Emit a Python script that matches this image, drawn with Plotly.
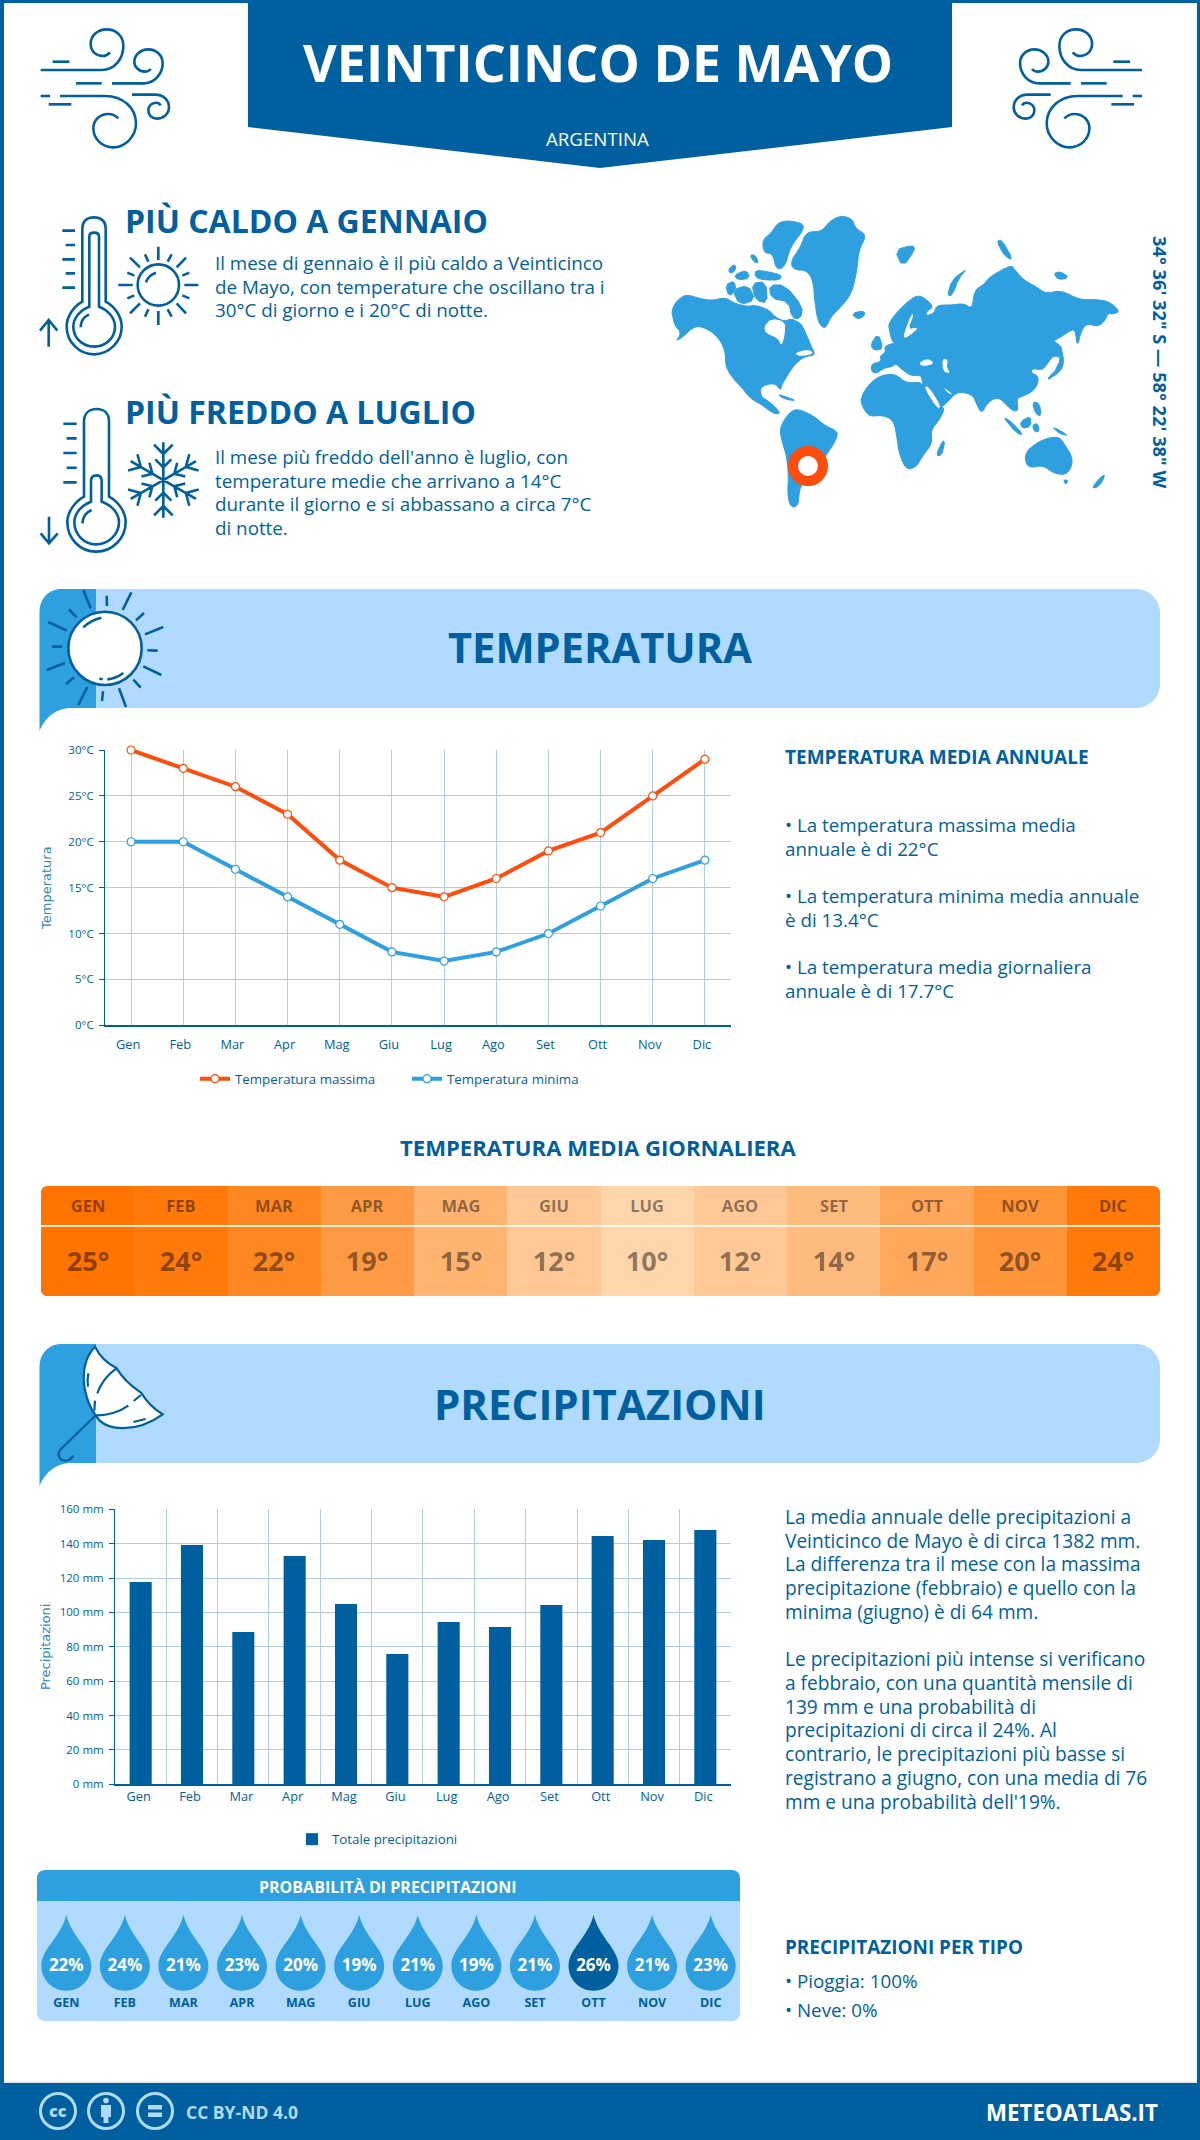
import math
import re
import plotly.graph_objects as go

# ==============================
# DATA
# ==============================
MONTHS = ["Gen", "Feb", "Mar", "Apr", "Mag", "Giu", "Lug", "Ago", "Set", "Ott", "Nov", "Dic"]
MONTHS_UP = ["GEN", "FEB", "MAR", "APR", "MAG", "GIU", "LUG", "AGO", "SET", "OTT", "NOV", "DIC"]
TEMP_MAX = [30, 28, 26, 23, 18, 15, 14, 16, 19, 21, 25, 29]
TEMP_MIN = [20, 20, 17, 14, 11, 8, 7, 8, 10, 13, 16, 18]
TEMP_AVG = [25, 24, 22, 19, 15, 12, 10, 12, 14, 17, 20, 24]
RAIN = [117.7, 139.2, 88.6, 132.8, 104.9, 75.8, 94.4, 91.5, 104.3, 144.5, 142.2, 148.0]
RAIN_PROB = [22, 24, 21, 23, 20, 19, 21, 19, 21, 26, 21, 23]

DARK = "#005F9E"
MID = "#2E9FDF"
LIGHT = "#B0DBFE"
RED = "#FF4D0D"
GRID = "#B3CDE0"
W, H = 1200, 2140

shapes = []
annotations = []


# ==============================
# HELPERS (page pixels -> paper)
# ==============================
def px(x):
    return round(x / W, 5)


def py(y):
    return round(1 - y / H, 5)


def paper_path(d, ox=0, oy=0, kx=1 / 3, ky=1 / 3, mirror=None):
    """Convert an 'M x y L x y C ...' string from crop coords to paper coords."""
    out = []
    nums = []
    for tok in re.findall(r"[MLCZ]|-?\d+\.?\d*", d):
        if tok in "MLCZ":
            out.append(tok)
        else:
            nums.append(float(tok))
            if len(nums) == 2:
                x = ox + nums[0] * kx
                if mirror is not None:
                    x = mirror - x
                out.append(f"{px(x)},{py(oy + nums[1] * ky)}")
                nums = []
    return " ".join(out)


def add_path(d, color=DARK, lw=2.6, fill=None, layer="above", **kw):
    shapes.append(dict(type="path", xref="paper", yref="paper", path=paper_path(d, **kw),
                       line=dict(color=color, width=lw) if lw else dict(width=0),
                       fillcolor=fill or "rgba(0,0,0,0)", layer=layer))


def add_segments(segs, **kw):
    d = " ".join(f"M{a} {b} L{c} {e}" for a, b, c, e in segs)
    add_path(d, **kw)


def rrect(x0, y0, x1, y1, tl=0, tr=0, br=0, bl=0):
    c = 0.45
    return (f"M{x0 + tl} {y0} L{x1 - tr} {y0} C{x1 - tr * c} {y0} {x1} {y0 + tr * c} {x1} {y0 + tr} "
            f"L{x1} {y1 - br} C{x1} {y1 - br * c} {x1 - br * c} {y1} {x1 - br} {y1} "
            f"L{x0 + bl} {y1} C{x0 + bl * c} {y1} {x0} {y1 - bl * c} {x0} {y1 - bl} "
            f"L{x0} {y0 + tl} C{x0} {y0 + tl * c} {x0 + tl * c} {y0} {x0 + tl} {y0} Z")


def add_box(x0, y0, x1, y1, fill, tl=0, tr=0, br=0, bl=0, layer="below"):
    add_path(rrect(x0, y0, x1, y1, tl, tr, br, bl), lw=0, fill=fill, kx=1, ky=1, layer=layer)


def add_circle(cx, cy, r, line, lw, fill="rgba(0,0,0,0)"):
    shapes.append(dict(type="circle", xref="paper", yref="paper", x0=px(cx - r), x1=px(cx + r),
                       y0=py(cy - r), y1=py(cy + r), line=dict(color=line, width=lw), fillcolor=fill))


def label(x, y, text, size, color=DARK, weight=400, anchor="left", family="Open Sans", angle=0):
    annotations.append(dict(xref="paper", yref="paper", x=px(x), y=py(y), text=text, showarrow=False,
                            xanchor=anchor, yanchor="middle", align=anchor if anchor != "center" else "center",
                            textangle=angle, borderpad=0, borderwidth=0,
                            font=dict(family=family, size=size, color=color, weight=weight)))


def para(x, y, lines, size, step=23.6):
    for i, line in enumerate(lines):
        label(x, y + i * step, line, size)


def smooth(d):
    """Round the corners of a polygon string (corner cutting), the coast looks less blocky."""
    nums = [float(n) for n in re.findall(r"\d+\.?\d*", d)]
    pts = list(zip(nums[0::2], nums[1::2]))
    for _ in range(2 if len(pts) > 8 else 1):
        new = []
        for i, (x0, y0) in enumerate(pts):
            x1, y1 = pts[(i + 1) % len(pts)]
            new.append((0.75 * x0 + 0.25 * x1, 0.75 * y0 + 0.25 * y1))
            new.append((0.25 * x0 + 0.75 * x1, 0.25 * y0 + 0.75 * y1))
        pts = new
    return "M" + " L".join(f"{x:.1f} {y:.1f}" for x, y in pts) + " Z"


# ==============================
# PAGE FRAME + HEADER
# ==============================
add_box(0, 0, 4, H, DARK)
add_box(W - 3, 0, W, H, DARK)
add_box(0, 0, W, 3, DARK)
add_box(0, 2083, W, H, DARK)
add_box(4, 2081.5, W - 3, 2083, "#DDE3E8")
add_path("M248 0 L952 0 L952 127 L600 168 L248 127 Z", lw=0, fill=DARK, kx=1, ky=1, layer="below")
label(598, 62, "VEINTICINCO DE MAYO", 52, "white", 700, "center")
label(598, 138, "ARGENTINA", 18.7, "white", 400, "center")

WIND = [
    "M32 150 L215 150 C255 150 280 115 280 78 C280 48 258 28 230 28 C205 28 182 45 182 72 C182 95 200 108 218 108 C228 108 235 103 240 97",
    "M68 125 L118 125",
    "M138 190 L215 190",
    "M246 190 L340 190 C375 190 398 160 398 130 C398 105 378 88 355 88 C332 88 313 105 313 125 C313 142 328 155 345 155 C352 155 358 152 362 147",
    "M32 228 L60 228",
    "M90 228 L225 228 C280 228 318 265 318 310 C318 350 285 382 250 382 C215 382 190 355 190 325 C190 300 210 282 235 282 C248 282 258 288 265 295",
    "M56 253 L124 253",
    "M306 224 L375 224 C400 224 417 240 417 262 C417 282 400 296 380 296 C365 296 355 285 355 270 C355 258 365 248 378 248 C385 248 390 252 392 256",
]
for d in WIND:
    add_path(d, ox=30, oy=20)
    add_path(d, ox=30, oy=20, mirror=1182.7)

# ==============================
# HOT / COLD BLOCKS
# ==============================
label(125, 221, "PIÙ CALDO A GENNAIO", 32, DARK, 700)
para(215, 263, ["Il mese di gennaio è il più caldo a Veinticinco",
                "de Mayo, con temperature che oscillano tra i",
                "30°C di giorno e i 20°C di notte."], 18.8)
label(125, 411, "PIÙ FREDDO A LUGLIO", 32, DARK, 700)
para(215, 457, ["Il mese più freddo dell'anno è luglio, con",
                "temperature medie che arrivano a 14°C",
                "durante il giorno e si abbassano a circa 7°C",
                "di notte."], 18.8)

hot = dict(ox=30, oy=205)
add_path("M157 290 L157 70 C157 48 172 37 192 37 C212 37 227 48 227 70 L227 290 C255 305 275 335 275 365 C275 410 237 448 192 448 C147 448 110 410 110 365 C110 335 130 305 157 290 Z", **hot)
add_path("M178 305 L178 95 C178 85 185 83 192 83 C200 83 207 85 207 95 L207 305 C235 315 255 340 255 365 C255 398 228 425 192 425 C157 425 130 398 130 365 C130 340 150 315 178 305 Z", **hot)
add_path("M152 367 C152 350 162 335 177 328", **hot)
add_segments([(97, 77, 135, 77), (107, 120, 135, 120), (97, 163, 135, 163), (107, 205, 135, 205), (97, 248, 135, 248)], **hot)
add_path("M56 425 L56 345 M30 377 L56 345 L82 377", **hot)
add_circle(30 + 385 / 3, 205 + 240 / 3, 62 / 3, DARK, 2.6)
add_path("M348 232 C352 218 362 208 378 203", **hot)
add_segments([(385, 125, 385, 165), (385, 318, 385, 360), (265, 240, 308, 240), (463, 240, 505, 240),
              (300, 158, 330, 187), (468, 158, 440, 187), (300, 325, 330, 295), (468, 325, 440, 295),
              (345, 148, 355, 170), (425, 148, 413, 170), (292, 203, 313, 212), (478, 203, 457, 212),
              (292, 280, 313, 271), (478, 280, 457, 271), (345, 335, 355, 313), (425, 335, 413, 313)], **hot)

cold = dict(ox=30, oy=395)
add_path("M162 305 L162 80 C162 55 178 42 200 42 C222 42 237 55 237 80 L237 305 C265 320 287 350 287 382 C287 430 247 470 198 470 C150 470 112 430 112 382 C112 350 135 320 162 305 Z", **cold)
add_path("M183 320 L183 258 C183 247 190 241 200 241 C210 241 215 247 215 258 L215 320 C245 330 267 355 267 382 C267 418 235 448 198 448 C162 448 133 418 133 382 C133 355 155 330 183 320 Z", **cold)
add_path("M157 385 C158 368 168 352 185 345", **cold)
add_segments([(100, 86, 140, 86), (110, 130, 140, 130), (100, 174, 140, 174), (110, 218, 140, 218), (100, 262, 140, 262)], **cold)
add_path("M57 365 L57 445 M32 415 L57 445 L83 415", **cold)
flake = []
for k in range(6):
    a = math.radians(90 + 60 * k)
    ca, sa = math.cos(a), math.sin(a)
    for x0, y0, x1, y1 in [(0, 0, 0, 113), (0, 78, -28, 106), (0, 78, 28, 106), (0, 38, -24, 62), (0, 38, 24, 62)]:
        flake.append((round(400 + x0 * sa + y0 * ca, 1), round(255 - y0 * sa + x0 * ca, 1),
                      round(400 + x1 * sa + y1 * ca, 1), round(255 - y1 * sa + x1 * ca, 1)))
add_segments(flake, **cold)

# ==============================
# WORLD MAP (crop coords of the map area)
# ==============================
LAND = [
    # north america
    "M62 365 L70 340 L100 312 L140 325 L175 332 L215 322 L240 340 L280 350 L300 345 L340 360 L355 380 L385 395 L400 385 L430 400 L440 420 L460 470 L472 495 L440 500 L415 520 L395 550 L375 585 L372 602 L362 585 L345 580 L315 590 L315 620 L340 635 L360 655 L372 672 L350 670 L320 645 L285 625 L260 590 L240 570 L215 530 L215 480 L190 435 L150 410 L125 410 L100 435 L72 456 L90 430 L70 405 L65 380 Z",
    # arctic islands
    "M215 285 L240 272 L245 300 L225 320 Z",
    "M222 240 L240 222 L246 235 L232 252 Z",
    "M240 255 L275 240 L285 265 L250 270 Z",
    "M235 300 L280 285 L300 330 L255 345 Z",
    "M300 240 L335 245 L375 255 L370 270 L325 270 L300 262 Z",
    "M290 280 L330 275 L335 340 L300 330 Z",
    "M340 285 L385 285 L435 350 L430 385 L405 385 L395 335 L345 325 Z",
    "M320 150 L345 130 L370 90 L435 98 L438 120 L400 170 L385 230 L360 240 L350 190 L325 190 Z",
    "M285 195 L300 195 L310 220 L295 215 Z",
    # greenland + iceland
    "M400 215 L430 170 L445 125 L490 125 L510 95 L545 76 L578 88 L585 115 L618 135 L595 180 L590 240 L575 310 L545 350 L515 380 L500 418 L480 400 L470 340 L465 270 L445 240 L410 240 Z",
    "M575 370 L610 362 L612 378 L590 388 Z",
    # south america
    "M370 712 L395 670 L420 655 L470 680 L495 705 L538 725 L525 760 L505 790 L470 850 L430 885 L425 910 L422 948 L400 952 L392 910 L395 860 L390 800 L375 750 Z",
    # caribbean
    "M362 612 L400 625 L415 632 L385 628 Z",
    # africa
    "M600 625 L625 580 L660 555 L700 552 L730 580 L775 575 L790 610 L815 655 L842 650 L825 690 L800 720 L805 760 L775 800 L760 830 L730 840 L710 790 L705 750 L695 690 L660 675 L625 680 L605 650 Z",
    "M815 795 L835 750 L840 760 L830 798 Z",
    # eurasia
    "M632 548 L630 522 L660 515 L655 498 L672 487 L668 468 L700 458 L690 455 L682 420 L680 400 L705 365 L740 330 L765 315 L790 330 L808 352 L790 362 L785 378 L810 370 L815 350 L830 345 L860 345 L895 340 L918 358 L925 300 L950 285 L965 265 L985 250 L1030 225 L1040 240 L1065 270 L1100 290 L1130 312 L1170 300 L1225 330 L1270 328 L1310 335 L1340 365 L1320 372 L1305 370 L1295 395 L1275 410 L1245 400 L1228 425 L1218 472 L1212 420 L1200 420 L1165 445 L1148 452 L1175 470 L1172 505 L1150 495 L1130 525 L1118 540 L1090 535 L1085 548 L1110 560 L1098 600 L1060 620 L1045 625 L1050 665 L1030 660 L1012 640 L990 620 L960 640 L945 672 L930 640 L920 615 L885 605 L865 615 L838 648 L815 655 L780 590 L775 570 L772 555 L745 558 L720 540 L700 520 L690 530 L665 535 L650 548 Z",
    # islands of europe and the north
    "M628 465 L650 430 L665 475 L640 482 Z",
    "M698 180 L750 165 L755 180 L720 232 Z",
    "M848 318 L860 270 L905 235 L880 265 L862 315 Z",
    "M988 155 L1002 148 L1035 210 L1012 200 Z",
    "M1150 250 L1170 245 L1195 262 L1165 270 Z",
    # east asia and oceania
    "M1125 575 L1165 530 L1172 475 L1180 515 L1170 545 Z",
    "M1005 680 L1030 695 L1065 735 L1045 730 Z",
    "M1055 695 L1085 678 L1085 710 L1060 715 Z",
    "M1090 635 L1110 640 L1115 680 L1098 670 Z",
    "M1145 708 L1195 738 L1165 730 Z",
    "M1090 705 L1105 700 L1110 725 L1095 725 Z",
    "M1067 790 L1100 760 L1130 745 L1165 740 L1180 760 L1208 810 L1190 855 L1150 850 L1120 825 L1075 835 Z",
    "M1258 895 L1285 860 L1298 855 L1280 890 Z",
    "M1178 870 L1192 870 L1185 884 Z",
]
SEAS = [
    "M325 410 L345 385 L385 395 L385 430 L375 470 L365 445 L330 430 Z",
    "M765 520 L790 505 L812 520 L780 530 Z",
    "M833 505 L850 510 L845 530 L856 550 L835 545 Z",
    "M722 435 L745 372 L752 375 L735 418 L762 412 L758 422 L726 446 Z",
    "M780 590 L795 590 L830 650 L818 655 Z",
    "M835 590 L865 615 L850 610 Z",
    "M410 490 L450 478 L468 490 L430 500 Z",
]
map_kw = dict(ox=650, oy=190, kx=1 / 2.85, ky=1 / 3)
for d in LAND:
    add_path(smooth(d), color=MID, lw=1, fill=MID, layer="below", **map_kw)
for d in SEAS:
    add_path(smooth(d), lw=0, fill="white", layer="below", **map_kw)
add_circle(808, 466, 15, RED, 10, "white")
label(1161, 362, "34° 36' 32\" S — 58° 22' 38\" W", 18.3, DARK, 700, "center", angle=90)

# ==============================
# SECTION BANNERS
# ==============================
for top in (589, 1344):
    bottom = top + 119
    add_box(40, top, 1160, bottom, LIGHT, tl=22, tr=24, br=24, bl=0)
    add_path(f"M96 {top} L62 {top} C48 {top} 39.5 {top + 10} 39.5 {top + 24} L39.5 {bottom + 23} "
             f"C45 {bottom + 10} 55 {bottom} 72 {bottom} L96 {bottom} Z",
             lw=0, fill=MID, kx=1, ky=1, layer="below")
label(600, 647, "TEMPERATURA", 41.6, DARK, 700, "center")
label(600, 1403, "PRECIPITAZIONI", 42, DARK, 700, "center")

sun = dict(ox=30, oy=585)
add_circle(30 + 225 / 3, 585 + 190 / 3, 110 / 3, DARK, 2.6, "white")
add_path("M160 127 C175 112 195 102 214 98 M232 283 C250 282 265 275 280 264 M208 281 L218 283", **sun)
add_segments([(160, 15, 182, 70), (230, 32, 231, 63), (304, 22, 278, 75), (342, 84, 318, 106),
              (400, 126, 345, 148), (383, 197, 352, 196), (394, 270, 340, 244), (332, 308, 310, 284),
              (288, 366, 267, 310), (216, 348, 219, 318), (145, 360, 172, 306), (108, 298, 132, 277),
              (50, 255, 105, 234), (66, 185, 97, 185), (55, 111, 110, 137), (117, 73, 140, 97)], **sun)

umb = dict(ox=30, oy=1340, lw=2.2)
add_path("M195 20 C165 50 155 100 165 150 C172 185 185 210 197 226 C225 275 320 280 398 223 C372 208 350 185 333 158 C305 140 275 110 258 83 C232 70 210 50 195 20 Z", fill="white", **umb)
add_path("M175 100 C172 115 172 128 174 140 M258 86 C232 105 212 130 202 160 M195 182 L193 212 M197 226 C230 228 270 215 295 197 M311 183 L333 165 M310 246 L347 237", **umb)
add_path("M197 226 L90 330 C80 345 90 362 105 362 C118 362 125 355 130 347", **umb)

# ==============================
# TEMPERATURE SIDE TEXT + TABLE TITLE
# ==============================
label(785, 757, "TEMPERATURA MEDIA ANNUALE", 19, DARK, 700)
para(785, 825, ["• La temperatura massima media", "annuale è di 22°C"], 18.8)
para(785, 896, ["• La temperatura minima media annuale", "è di 13.4°C"], 18.8)
para(785, 967, ["• La temperatura media giornaliera", "annuale è di 17.7°C"], 18.8)
label(598, 1147, "TEMPERATURA MEDIA GIORNALIERA", 22.1, DARK, 700, "center")

# rounded corners of the table
for cx, cy, sx, sy in [(41, 1186, 1, 1), (1160, 1186, -1, 1), (41, 1296, 1, -1), (1160, 1296, -1, -1)]:
    add_path(f"M{cx} {cy} L{cx + 6 * sx} {cy} C{cx + 3 * sx} {cy} {cx} {cy + 3 * sy} {cx} {cy + 6 * sy} Z",
             lw=0, fill="white", kx=1, ky=1)

# ==============================
# PRECIPITATION SIDE TEXT + PANEL
# ==============================
para(785, 1516.7, ["La media annuale delle precipitazioni a",
                   "Veinticinco de Mayo è di circa 1382 mm.",
                   "La differenza tra il mese con la massima",
                   "precipitazione (febbraio) e quello con la",
                   "minima (giugno) è di 64 mm."], 19.1, 23.9)
para(785, 1659, ["Le precipitazioni più intense si verificano",
                 "a febbraio, con una quantità mensile di",
                 "139 mm e una probabilità di",
                 "precipitazioni di circa il 24%. Al",
                 "contrario, le precipitazioni più basse si",
                 "registrano a giugno, con una media di 76",
                 "mm e una probabilità dell'19%."], 19.1, 23.8)

add_box(37, 1870, 740, 1901, MID, tl=8, tr=8)
add_box(37, 1901, 740, 2021, LIGHT, br=8, bl=8)
label(388, 1887, "PROBABILITÀ DI PRECIPITAZIONI", 16, "white", 700, "center")

# one drop per month, placed on the panel's own x axis
DROP = "M0,76 C-5,54 -25,42 -25,25 C-25,11 -14,0 0,0 C14,0 25,11 25,25 C25,42 5,54 0,76 Z"
for i, v in enumerate(RAIN_PROB):
    shapes.append(dict(type="path", xref="x5", yref="paper", xsizemode="pixel", ysizemode="pixel",
                       xanchor=i, yanchor=py(1990.7), path=DROP, line=dict(width=0),
                       fillcolor=DARK if v == max(RAIN_PROB) else MID, layer="below"))

label(785, 1947, "PRECIPITAZIONI PER TIPO", 18.9, DARK, 700)
label(785, 1981, "• Pioggia: 100%", 18.8)
label(785, 2010, "• Neve: 0%", 18.8)

# ==============================
# FOOTER
# ==============================
for cx in (58, 106, 155):
    add_circle(cx, 2111, 17.5, LIGHT, 3)
label(58, 2111, "cc", 16, LIGHT, 800, "center")
add_circle(106, 2100.5, 2.8, LIGHT, 0, LIGHT)
add_box(101, 2105, 111, 2117, LIGHT, layer="above")
add_box(103.5, 2117, 108.5, 2123, LIGHT, layer="above")
add_box(148, 2105, 162, 2109.5, LIGHT, layer="above")
add_box(148, 2112.5, 162, 2117, LIGHT, layer="above")
label(186, 2112, "CC BY-ND 4.0", 17.5, LIGHT, 700)
label(1158, 2112, "METEOATLAS.IT", 22.3, "white", 700, "right")

# ==============================
# TRACES
# ==============================
fig = go.Figure()
for name, vals, color in [("Temperatura massima", TEMP_MAX, RED), ("Temperatura minima", TEMP_MIN, MID)]:
    fig.add_trace(go.Scatter(x=MONTHS, y=vals, name=name, mode="lines+markers", cliponaxis=False,
                             line=dict(color=color, width=4),
                             marker=dict(size=8, color="white", line=dict(color=color, width=1.2)),
                             xaxis="x", yaxis="y", legend="legend"))
fig.add_trace(go.Bar(x=MONTHS, y=RAIN, name="Totale precipitazioni", marker=dict(color=DARK, line=dict(width=0)),
                     width=0.43, xaxis="x2", yaxis="y2", legend="legend2"))

heat = dict(colorscale=[[0, "#FFD5AB"], [1, "#FF7300"]], zmin=10, zmax=25, showscale=False, hoverinfo="skip")
fig.add_trace(go.Heatmap(z=[TEMP_AVG], x=MONTHS_UP, y=["t"], text=[MONTHS_UP], texttemplate="%{text}",
                         textfont=dict(family="Open Sans", size=16.5, color="rgba(0,0,0,0.46)", weight=700),
                         xaxis="x3", yaxis="y3", **heat))
fig.add_trace(go.Heatmap(z=[TEMP_AVG], x=MONTHS_UP, y=["t"], text=[[f"{t}°" for t in TEMP_AVG]],
                         texttemplate="%{text}",
                         textfont=dict(family="Open Sans", size=27, color="rgba(0,0,0,0.46)", weight=700),
                         xaxis="x4", yaxis="y4", **heat))
fig.add_trace(go.Scatter(x=MONTHS_UP, y=[0.45] * 12, mode="text", text=[f"{v}%" for v in RAIN_PROB],
                         textfont=dict(family="Open Sans", size=17, color="white", weight=700),
                         showlegend=False, xaxis="x5", yaxis="y5", hoverinfo="skip"))
fig.add_trace(go.Scatter(x=MONTHS_UP, y=[0.142] * 12, mode="text", text=MONTHS_UP,
                         textfont=dict(family="Open Sans", size=12.5, color=DARK, weight=700),
                         showlegend=False, xaxis="x5", yaxis="y5", hoverinfo="skip"))


# ==============================
# LAYOUT
# ==============================
def ydom(top, bottom):
    return [py(bottom), py(top)]


def xdom(left, right):
    return [px(left), px(right)]


tick_font = dict(family="Open Sans", size=11.5, color=DARK)
xtick_font = dict(family="Open Sans", size=12.8, color=DARK)
title_font = dict(family="DejaVu Sans", size=13, color="#2B85C4")
legend_font = dict(family="Open Sans", size=13.3, color=DARK)
hidden = dict(visible=False, fixedrange=True)

fig.update_layout(
    width=W, height=H, autosize=False,
    margin=dict(l=0, r=0, t=0, b=0, pad=0, autoexpand=False),
    paper_bgcolor="white", plot_bgcolor="rgba(0,0,0,0)",
    font=dict(family="Open Sans", color=DARK),
    shapes=shapes, annotations=annotations, hovermode=False,
    xaxis=dict(domain=xdom(105, 731), range=[-0.5, 11.5], type="category", categoryorder="array",
               categoryarray=MONTHS, showgrid=True, gridcolor=GRID, gridwidth=1, anchor="y",
               showline=True, linecolor=DARK, linewidth=1.5, ticks="outside", ticklen=7,
               tickcolor="rgba(0,0,0,0)", tickfont=xtick_font, ticklabelshift=-3, zeroline=False),
    yaxis=dict(domain=ydom(750, 1025.3), range=[0, 30], dtick=5, ticksuffix="°C", anchor="x",
               showgrid=True, gridcolor=GRID, gridwidth=1, showline=True, linecolor=DARK, linewidth=1,
               ticks="outside", ticklen=5, tickcolor=DARK, tickfont=tick_font, ticklabelstandoff=3,
               zeroline=False, title=dict(text="Temperatura", font=title_font, standoff=13)),
    xaxis2=dict(domain=xdom(115, 731), range=[-0.5, 11.5], type="category", categoryorder="array",
                categoryarray=MONTHS, tickson="boundaries", showgrid=True, gridcolor=GRID, gridwidth=1,
                anchor="y2", showline=True, linecolor=DARK, linewidth=1.5, ticks="outside", ticklen=7,
                tickcolor="rgba(0,0,0,0)", tickfont=xtick_font, ticklabelshift=-2, zeroline=False),
    yaxis2=dict(domain=ydom(1509.3, 1784.3), range=[0, 160], dtick=20, ticksuffix=" mm", anchor="x2",
                showgrid=True, gridcolor=GRID, gridwidth=1, showline=True, linecolor=DARK, linewidth=1,
                ticks="outside", ticklen=5, tickcolor=DARK, tickfont=tick_font, ticklabelstandoff=3,
                zeroline=False, title=dict(text="Precipitazioni", font=title_font, standoff=6)),
    xaxis3=dict(domain=xdom(41, 1160), anchor="y3", **hidden),
    yaxis3=dict(domain=ydom(1186, 1225), anchor="x3", **hidden),
    xaxis4=dict(domain=xdom(41, 1160), anchor="y4", **hidden),
    yaxis4=dict(domain=ydom(1226.5, 1296), anchor="x4", **hidden),
    xaxis5=dict(domain=xdom(37, 740), range=[-0.5, 11.5], type="category", categoryorder="array",
                categoryarray=MONTHS_UP, anchor="y5", **hidden),
    yaxis5=dict(domain=ydom(1901, 2021), range=[0, 1], anchor="x5", **hidden),
    legend=dict(orientation="h", x=px(195), y=py(1063.5), xanchor="left", yanchor="top",
                entrywidth=167, entrywidthmode="pixels", font=legend_font, bgcolor="rgba(0,0,0,0)"),
    legend2=dict(orientation="h", x=px(292), y=py(1824), xanchor="left", yanchor="top",
                 font=legend_font, bgcolor="rgba(0,0,0,0)"),
)

fig.write_html("out.html", config={"displayModeBar": False}, post_script="document.body.style.margin='0';")
